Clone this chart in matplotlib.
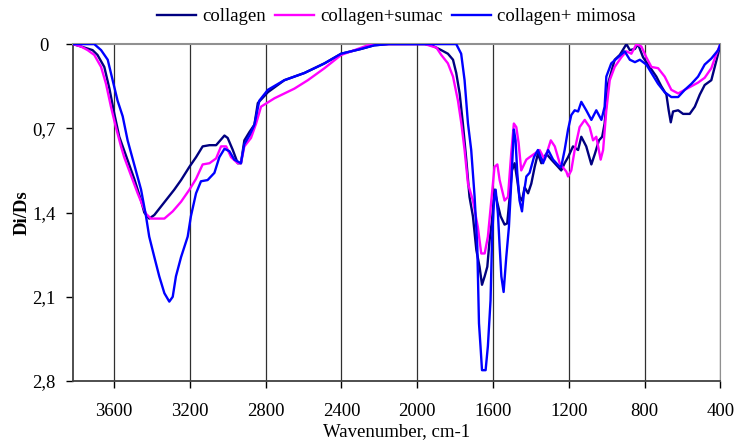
import matplotlib.pyplot as plt
from matplotlib.ticker import FixedLocator, FixedFormatter

# collagen (navy)
col_wn = [3816, 3774, 3713, 3687, 3651, 3624, 3598, 3572, 3493, 3457, 3440, 3414, 3387, 3352,
          3317, 3282, 3246, 3202, 3167, 3132, 3096, 3061, 3017, 3000, 2973, 2947, 2930, 2912,
          2885, 2859, 2841, 2788, 2701, 2595, 2489, 2401, 2296, 2227, 2150, 1960, 1924, 1873,
          1838, 1811, 1794, 1776, 1759, 1741, 1724, 1706, 1688, 1671, 1658, 1644, 1630, 1618,
          1605, 1592, 1577, 1560, 1539, 1525, 1512, 1500, 1486, 1472, 1460, 1447, 1433, 1415,
          1398, 1380, 1363, 1345, 1319, 1292, 1257, 1240, 1222, 1204, 1178, 1151, 1134, 1108,
          1081, 1062, 1041, 1024, 1011, 993, 958, 931, 896, 878, 851, 835, 808, 773, 738, 712,
          685, 673, 662, 650, 623, 597, 562, 535, 509, 483, 448, 430, 412, 400]
col_val = [0.0, 0.02, 0.05, 0.09, 0.19, 0.37, 0.58, 0.77, 1.12, 1.30, 1.40, 1.45, 1.42, 1.35,
           1.28, 1.21, 1.13, 1.02, 0.94, 0.85, 0.84, 0.84, 0.76, 0.78, 0.88, 0.99, 0.99, 0.80,
           0.73, 0.67, 0.49, 0.40, 0.30, 0.24, 0.16, 0.08, 0.04, 0.01, 0.0, 0.0, 0.01, 0.05,
           0.08, 0.13, 0.24, 0.41, 0.66, 0.96, 1.27, 1.43, 1.71, 1.85, 2.00, 1.93, 1.85, 1.63,
           1.46, 1.21, 1.32, 1.43, 1.50, 1.49, 1.27, 1.05, 0.99, 1.13, 1.27, 1.30, 1.19, 1.24,
           1.16, 1.02, 0.91, 0.99, 0.91, 0.96, 1.02, 1.05, 0.99, 0.94, 0.85, 0.88, 0.77, 0.85,
           1.00, 0.91, 0.80, 0.77, 0.66, 0.33, 0.13, 0.09, 0.0, 0.05, 0.04, 0.0, 0.11, 0.19,
           0.27, 0.35, 0.42, 0.55, 0.65, 0.56, 0.55, 0.58, 0.58, 0.52, 0.42, 0.34, 0.30, 0.19,
           0.08, 0.0]

# collagen+sumac (magenta)
sum_wn = [3816, 3774, 3739, 3704, 3668, 3642, 3616, 3590, 3563, 3546, 3475, 3431, 3405, 3334,
          3290, 3246, 3202, 3167, 3132, 3096, 3061, 3035, 3008, 2982, 2947, 2930, 2912, 2877,
          2850, 2824, 2753, 2648, 2577, 2489, 2401, 2313, 2243, 1960, 1898, 1873, 1838, 1811,
          1785, 1767, 1750, 1732, 1706, 1680, 1662, 1644, 1627, 1609, 1592, 1577, 1565, 1539,
          1521, 1504, 1490, 1477, 1465, 1451, 1424, 1407, 1380, 1354, 1327, 1295, 1274, 1248,
          1213, 1204, 1187, 1169, 1143, 1116, 1090, 1072, 1055, 1032, 1019, 1002, 984, 958, 923,
          896, 870, 843, 817, 791, 764, 729, 694, 659, 623, 588, 553, 518, 483, 448, 421, 400]
sum_val = [0.0, 0.02, 0.05, 0.09, 0.19, 0.33, 0.52, 0.69, 0.85, 0.94, 1.24, 1.41, 1.45, 1.45,
           1.39, 1.31, 1.21, 1.12, 1.00, 0.99, 0.95, 0.85, 0.85, 0.94, 0.99, 0.99, 0.85, 0.78,
           0.66, 0.52, 0.45, 0.37, 0.30, 0.20, 0.09, 0.04, 0.0, 0.0, 0.03, 0.09, 0.16, 0.27,
           0.47, 0.66, 0.88, 1.16, 1.30, 1.52, 1.74, 1.74, 1.60, 1.30, 1.02, 1.00, 1.13, 1.30,
           1.27, 0.91, 0.66, 0.69, 0.82, 1.05, 0.96, 0.94, 0.91, 0.88, 0.96, 0.80, 0.85, 0.99,
           1.06, 1.10, 1.05, 0.88, 0.69, 0.63, 0.69, 0.80, 0.77, 0.96, 0.88, 0.55, 0.30, 0.19,
           0.11, 0.06, 0.08, 0.0, 0.02, 0.11, 0.19, 0.20, 0.27, 0.38, 0.41, 0.38, 0.35, 0.32,
           0.28, 0.20, 0.08, 0.0]

# collagen+ mimosa (blue)
mim_wn = [3816, 3704, 3668, 3633, 3607, 3581, 3554, 3528, 3457, 3431, 3414, 3387, 3361, 3334,
          3308, 3290, 3273, 3246, 3211, 3194, 3167, 3141, 3106, 3070, 3044, 3017, 2991, 2965,
          2930, 2912, 2885, 2859, 2833, 2788, 2701, 2595, 2489, 2401, 2296, 2227, 2150, 1794,
          1768, 1750, 1732, 1715, 1697, 1683, 1674, 1666, 1658, 1639, 1627, 1613, 1605, 1595,
          1586, 1574, 1565, 1556, 1544, 1530, 1516, 1504, 1490, 1481, 1472, 1460, 1447, 1437,
          1424, 1407, 1384, 1363, 1336, 1309, 1283, 1248, 1240, 1222, 1204, 1187, 1169, 1151,
          1134, 1108, 1081, 1055, 1028, 1011, 1002, 976, 940, 905, 878, 851, 825, 791, 764, 729,
          694, 659, 623, 588, 553, 518, 483, 448, 412, 400]
mim_val = [0.0, 0.0, 0.05, 0.13, 0.30, 0.47, 0.60, 0.80, 1.21, 1.43, 1.60, 1.77, 1.93, 2.07,
           2.14, 2.10, 1.93, 1.77, 1.60, 1.43, 1.24, 1.14, 1.13, 1.07, 0.94, 0.87, 0.89, 0.96,
           0.99, 0.83, 0.76, 0.67, 0.47, 0.38, 0.30, 0.24, 0.16, 0.08, 0.04, 0.01, 0.0, 0.0,
           0.08, 0.30, 0.66, 0.88, 1.27, 1.68, 2.32, 2.51, 2.71, 2.71, 2.51, 2.13, 1.63, 1.30,
           1.21, 1.41, 1.68, 1.93, 2.06, 1.77, 1.52, 1.16, 0.71, 0.80, 1.07, 1.30, 1.39, 1.24,
           1.10, 1.07, 0.94, 0.88, 0.99, 0.88, 0.96, 1.02, 1.02, 0.88, 0.71, 0.59, 0.55, 0.56,
           0.48, 0.55, 0.63, 0.55, 0.63, 0.52, 0.27, 0.16, 0.11, 0.06, 0.13, 0.15, 0.13, 0.17,
           0.24, 0.33, 0.40, 0.44, 0.44, 0.38, 0.33, 0.27, 0.17, 0.12, 0.05, 0.0]

x_ticks = [3600, 3200, 2800, 2400, 2000, 1600, 1200, 800, 400]
y_ticks = [0, 0.7, 1.4, 2.1, 2.8]
y_labels = ['0', '0,7', '1,4', '2,1', '2,8']

plt.rcParams['font.family'] = ['Liberation Serif', 'DejaVu Serif']

fig = plt.figure(figsize=(7.34, 4.41), dpi=100)
ax = fig.add_axes([0.0995, 0.136, 0.882, 0.764])

ax.plot(col_wn, col_val, color='#000080', lw=1.7, label='collagen', zorder=3)
ax.plot(sum_wn, sum_val, color='#ff00ff', lw=1.7, label='collagen+sumac', zorder=3)
ax.plot(mim_wn, mim_val, color='#0000ff', lw=1.7, label='collagen+ mimosa', zorder=3)

ax.set_xlim(3816, 400)
ax.set_ylim(2.8, 0)
ax.xaxis.set_major_locator(FixedLocator(x_ticks))
ax.yaxis.set_major_locator(FixedLocator(y_ticks))
ax.yaxis.set_major_formatter(FixedFormatter(y_labels))
ax.tick_params(labelsize=13.5, direction='out', length=5, width=1)
ax.tick_params(axis='x', pad=11)
ax.tick_params(axis='y', pad=16)
for lab in ax.get_yticklabels():
    lab.set_horizontalalignment('center')

ax.grid(axis='x', color='#303030', lw=0.9)
ax.spines['top'].set_color('#909090')
ax.spines['top'].set_linewidth(1.5)
ax.spines['right'].set_color('#909090')
ax.spines['left'].set_linewidth(1.3)
ax.spines['bottom'].set_linewidth(1.3)
ax.spines['left'].set_color('#404040')
ax.spines['bottom'].set_color('#404040')

ax.set_xlabel('Wavenumber, cm-1', fontsize=13.5, labelpad=2)
ax.set_ylabel('Di/Ds', fontsize=13.5, fontweight='bold')
ax.yaxis.set_label_coords(-0.066, 0.5)

fig.legend(loc='center', bbox_to_anchor=(0.54, 0.962), ncol=3, frameon=False,
           fontsize=13.5, handlelength=2.1, columnspacing=0.5, handletextpad=0.3,
           borderpad=0.2)

fig.savefig('out.png', dpi=100)
